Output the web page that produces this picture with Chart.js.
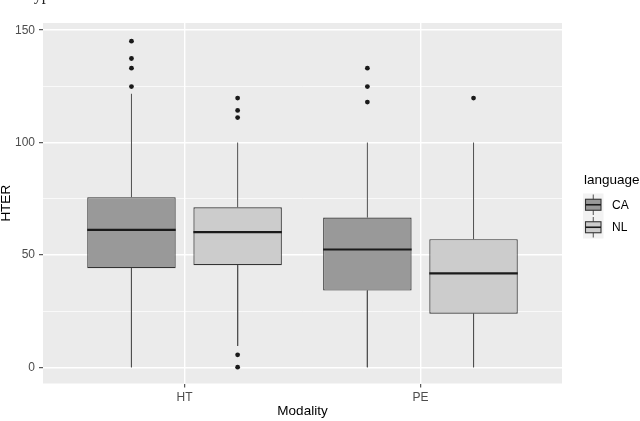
<!DOCTYPE html>
<html><head><meta charset="utf-8">
<script src="https://cdn.jsdelivr.net/npm/chart.js@4/dist/chart.umd.min.js"></script>
<style>
html,body{margin:0;padding:0;background:#fff;}
#wrap{position:relative;width:640px;height:421px;overflow:hidden;}
#frag{position:absolute;left:25px;top:-13px;font:16px/16px "Liberation Serif";color:#222;white-space:nowrap;}
canvas{position:absolute;left:0;top:0;}
</style></head><body>
<div id="wrap"><canvas id="c" width="640" height="421"></canvas><div id="frag">Typ</div></div>
<script>
// ---- data ----
const categories = ['HT', 'PE'];
const languages = ['CA', 'NL'];
const caQ1 = [44.1, 34.1];
const caMedian = [61.1, 52.4];
const caQ3 = [75.7, 66.6];
const caLow = [0, 0];
const caHigh = [121.7, 100];
const caOutliers = [[145.1, 137.4, 133.1, 124.9], [133.1, 124.9, 118.0]];
const nlQ1 = [45.4, 23.8];
const nlMedian = [60.1, 41.8];
const nlQ3 = [71.2, 57.0];
const nlLow = [9.5, 0];
const nlHigh = [100, 100];
const nlOutliers = [[119.8, 114.3, 111.1, 5.5, 0], [119.8]];
const yTicks = [0, 50, 100, 150];
const yMinor = [25, 75, 125];

// ---- build ----
const stats = [
  {q1: caQ1, med: caMedian, q3: caQ3, lo: caLow, hi: caHigh, out: caOutliers},
  {q1: nlQ1, med: nlMedian, q3: nlQ3, lo: nlLow, hi: nlHigh, out: nlOutliers}
];
const fills = ['#999999', '#cccccc'];
const slot = 0.45;       // dodge spacing between the two language boxes
const boxWidth = 0.375;  // box width in category units
const n = languages.length;
const half = boxWidth / 2;
const offsetOf = j => (j - (n - 1) / 2) * slot;
const FONT = '"Liberation Sans", Arial, sans-serif';

const datasets = [];
languages.forEach((lang, j) => {
  const s = stats[j];
  datasets.push({
    type: 'bar', label: lang, order: 2,
    data: categories.map((c, i) => ({x: i + 1 + offsetOf(j), y: [s.q1[i], s.q3[i]]})),
    backgroundColor: fills[j], borderColor: '#333333', borderWidth: 1.2,
    borderSkipped: false, grouped: false, barPercentage: boxWidth / slot, categoryPercentage: 1
  });
});
const medianPts = [], whiskerPts = [], outlierPts = [];
languages.forEach((lang, j) => {
  const s = stats[j];
  categories.forEach((c, i) => {
    const cx = i + 1 + offsetOf(j);
    medianPts.push({x: cx - half, y: s.med[i]}, {x: cx + half, y: s.med[i]}, {x: cx, y: null});
    whiskerPts.push({x: cx, y: s.q3[i]}, {x: cx, y: s.hi[i]}, {x: cx, y: null},
                    {x: cx, y: s.q1[i]}, {x: cx, y: s.lo[i]}, {x: cx, y: null});
    s.out[i].forEach(v => outlierPts.push({x: cx, y: v}));
  });
});
datasets.push({type: 'line', label: 'median', order: 0, data: medianPts,
  borderColor: '#1a1a1a', borderWidth: 2.2, pointRadius: 0, spanGaps: false, fill: false});
datasets.push({type: 'line', label: 'whisker', order: 3, data: whiskerPts,
  borderColor: '#505050', borderWidth: 1, pointRadius: 0, spanGaps: false, fill: false});
datasets.push({type: 'line', label: 'outlier', order: 1, data: outlierPts, showLine: false,
  pointRadius: 2.4, pointBackgroundColor: '#1a1a1a', pointBorderWidth: 0, pointHoverRadius: 2.4});

const panelBg = {
  id: 'panelBg',
  beforeDraw(chart) {
    const {ctx, chartArea: a} = chart;
    ctx.save(); ctx.fillStyle = '#ebebeb';
    ctx.fillRect(a.left, a.top, a.right - a.left, a.bottom - a.top);
    ctx.restore();
  }
};
const ggLegend = {
  id: 'ggLegend',
  afterDraw(chart) {
    const ctx = chart.ctx;
    const x0 = chart.chartArea.right + 21;
    ctx.save();
    ctx.textAlign = 'left'; ctx.textBaseline = 'middle';
    ctx.font = '13.5px ' + FONT; ctx.fillStyle = '#000';
    ctx.fillText('language', x0 + 1, 180);
    languages.forEach((lang, j) => {
      const ky = 193.5 + j * 22.5, kh = 22.5, kw = 20.5, cx = x0 + kw / 2, cy = ky + kh / 2;
      ctx.fillStyle = '#f2f2f2'; ctx.fillRect(x0, ky, kw, kh);
      ctx.strokeStyle = '#505050'; ctx.lineWidth = 1;
      ctx.beginPath(); ctx.moveTo(cx, ky + 1); ctx.lineTo(cx, ky + kh - 1); ctx.stroke();
      ctx.fillStyle = fills[j]; ctx.fillRect(x0 + 2.5, cy - 5.5, 15.5, 11);
      ctx.strokeStyle = '#333'; ctx.lineWidth = 1.1; ctx.strokeRect(x0 + 2.5, cy - 5.5, 15.5, 11);
      ctx.strokeStyle = '#1a1a1a'; ctx.lineWidth = 1.6;
      ctx.beginPath(); ctx.moveTo(x0 + 2.5, cy); ctx.lineTo(x0 + 18, cy); ctx.stroke();
      ctx.fillStyle = '#000'; ctx.font = '12px ' + FONT;
      ctx.fillText(lang, x0 + 29, cy + 0.5);
    });
    ctx.restore();
  }
};

new Chart(document.getElementById('c'), {
  type: 'bar',
  data: {datasets},
  plugins: [panelBg, ggLegend],
  options: {
    responsive: false, animation: false, devicePixelRatio: 1,
    layout: {padding: {top: 23, right: 78, bottom: 0, left: 0}},
    plugins: {legend: {display: false}, tooltip: {enabled: false}},
    scales: {
      x: {
        type: 'linear', min: 0.4, max: 2.6, offset: false,
        afterBuildTicks: s => { s.ticks = categories.map((c, i) => ({value: i + 1})); },
        afterFit: s => { s.height = 37.5; },
        ticks: {autoSkip: false, maxRotation: 0, padding: 3, color: '#4d4d4d',
          font: {family: FONT, size: 12},
          callback: v => categories[Math.round(v) - 1] ?? ''},
        grid: {color: '#ffffff', lineWidth: 1.4, offset: false, drawTicks: true,
          tickLength: 4, tickColor: '#333333', tickWidth: 1},
        border: {display: false},
        title: {display: true, text: 'Modality', color: '#000',
          font: {family: FONT, size: 13.5, lineHeight: 1}, padding: {top: 0, bottom: 2.5}}
      },
      y: {
        type: 'linear', min: -7.25, max: 153.2,
        afterBuildTicks: s => { s.ticks = yTicks.concat(yMinor).sort((a, b) => a - b).map(v => ({value: v})); },
        afterFit: s => { s.width = 43; },
        ticks: {autoSkip: false, padding: 4, color: '#4d4d4d',
          font: {family: FONT, size: 12},
          callback: v => yTicks.includes(v) ? String(v) : ''},
        grid: {color: '#ffffff',
          lineWidth: c => yTicks.includes(c.tick.value) ? 1.4 : 0.7,
          tickColor: c => yTicks.includes(c.tick.value) ? '#333333' : 'rgba(0,0,0,0)',
          drawTicks: true, tickLength: 4, tickWidth: 1},
        border: {display: false},
        title: {display: true, text: 'HTER', color: '#000',
          font: {family: FONT, size: 13.5, lineHeight: 1}, padding: {top: 0, bottom: 0}}
      }
    }
  }
});
</script>
</body></html>
